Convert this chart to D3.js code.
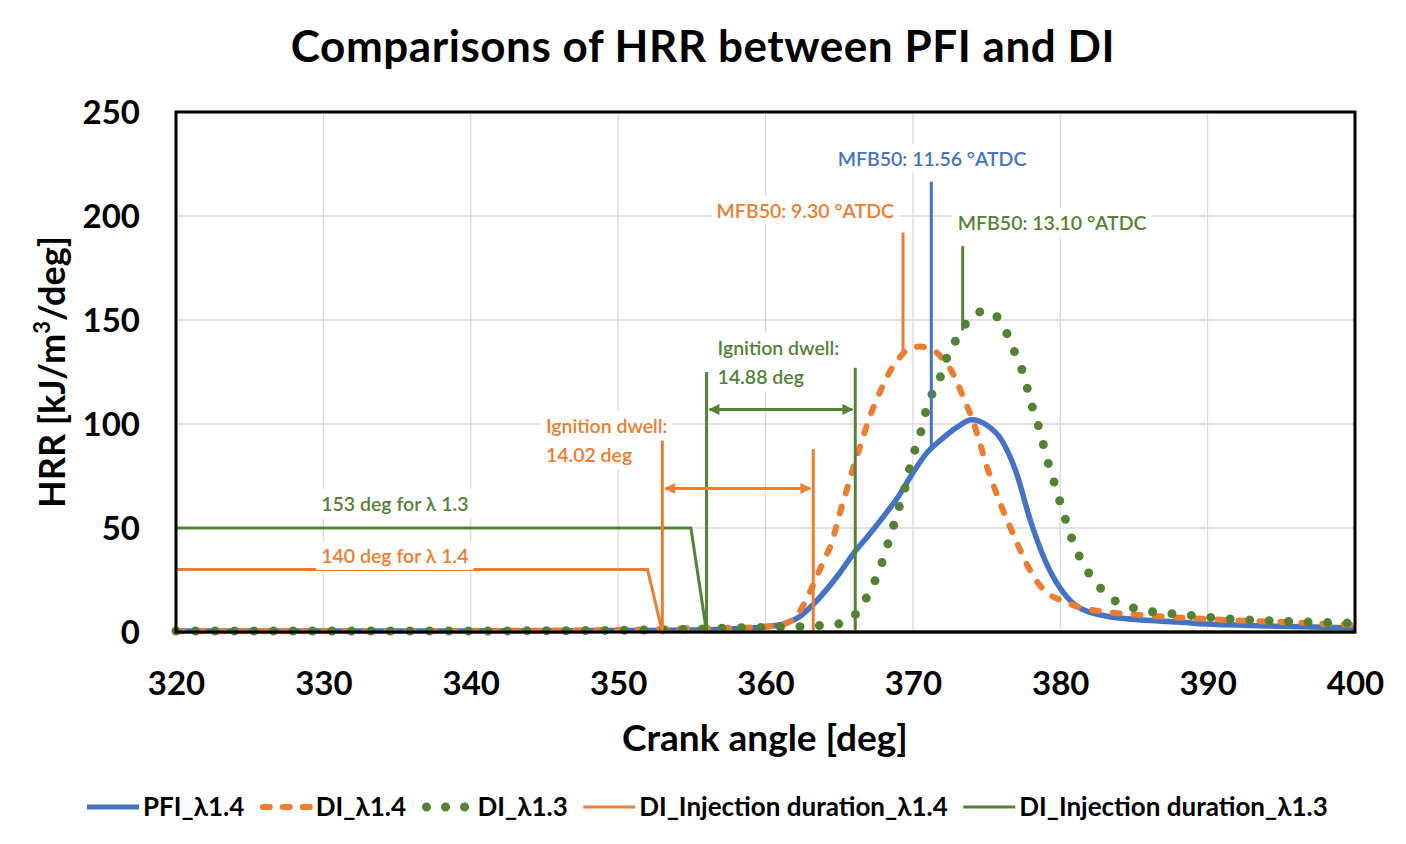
<!DOCTYPE html>
<html>
<head>
<meta charset="utf-8">
<script src="https://cdn.jsdelivr.net/npm/d3@7"></script>
<style>
  body { margin: 0; background: #fff; }
  svg { display: block; font-family: Lato, "Open Sans", sans-serif; }
</style>
</head>
<body>
<svg id="chart"></svg>
<script>
const width = 1406, height = 844;
const margin = { top: 112, right: 51, bottom: 212, left: 176 };
const plotWidth = width - margin.left - margin.right;
const plotHeight = height - margin.top - margin.bottom;

// Colours (Office palette)
const blue = "#4472C4", orange = "#ED7D31", green = "#548235";

// Axis ticks
const xTicks = [320, 330, 340, 350, 360, 370, 380, 390, 400];
const yTicks = [0, 50, 100, 150, 200, 250];

// HRR curves: [crank angle, HRR]
const pfiLambda14 = [
  [320, 0.5], [340, 0.5], [350, 0.7], [355, 1.0], [358, 1.6], [360, 2.5], [361.4, 4.3],
  [362.3, 7.3], [363.2, 13], [364.1, 20], [365, 28], [366, 38], [367, 46.5], [368, 55.5],
  [369, 65], [370, 76.5], [371, 86.5], [372, 93], [373, 98.5], [374, 102], [375, 99.5],
  [376, 92.5], [377, 77], [378, 53], [379, 34], [380, 21], [381, 13], [382, 9.5],
  [383, 7.8], [384, 6.7], [385.5, 5.8], [388, 4.8], [390, 3.8], [395, 2.8], [400, 1.9]
];
const diLambda14 = [
  [320, 0.3], [340, 0.5], [350, 1.0], [355, 1.8], [358, 2.0], [359.6, 2.4], [361, 3.4],
  [362, 7], [362.5, 12], [363, 19], [363.5, 27], [364, 35], [364.5, 43], [365, 56],
  [365.5, 68], [366, 80], [366.5, 91], [367, 102], [367.5, 111], [368, 119], [368.5, 126],
  [369, 131], [369.5, 135], [370, 136.8], [370.5, 137.2], [371, 136.5], [371.5, 135],
  [372, 131.5], [372.5, 127], [373, 120], [373.5, 111.5], [374, 103], [374.5, 92],
  [375, 80], [375.5, 70], [376, 60.5], [376.5, 52], [377, 44], [377.5, 36], [378, 29],
  [378.5, 23.5], [379, 19.5], [380, 15.4], [381, 12.6], [382, 10.8], [383, 9.7],
  [385, 8.4], [390, 6.2], [395, 4.8], [400, 3.4]
];
const diLambda13 = [
  [320, 0.5], [340, 0.5], [350, 0.8], [355, 1.3], [358, 2.0], [360.7, 2.3], [362.1, 2.5],
  [363.5, 3.0], [364.8, 3.7], [366, 7.7], [366.8, 15.9], [367.4, 24.2], [367.9, 33.3],
  [368.3, 42.3], [368.7, 51.4], [369.1, 60.7], [369.5, 70], [369.8, 79.3], [370.2, 89],
  [370.6, 97.6], [370.9, 106.7], [371.4, 116], [372, 125], [372.4, 134], [373.1, 142],
  [373.8, 150.5], [374.4, 153.5], [375, 154.5], [376, 148.7], [376.6, 140], [377.1, 131],
  [377.6, 122], [377.9, 113], [378.3, 104], [378.7, 94.7], [379, 85.6], [379.4, 76.4],
  [379.8, 67], [380.2, 57.6], [380.6, 48.6], [381.1, 39.4], [381.7, 31], [382.5, 23],
  [383.4, 16.5], [384.7, 12.2], [386, 10], [387.3, 9], [388.7, 8.1], [390.1, 7.1],
  [391.4, 6.3], [395, 5.2], [400, 4.2]
];
// Injection duration traces
const injLambda14 = [[320, 30], [352, 30], [353, 0], [400, 0]];
const injLambda13 = [[320, 50], [354.94, 50], [356, 0], [400, 0]];

// Annotation lines: angle, HRR from, HRR to (placed where the source drew them)
const mfbLines = [
  { angle: 369.33, from: 134.6, to: 192, color: orange },
  { angle: 371.25, from: 87.5, to: 216.5, color: blue },
  { angle: 373.38, from: 145, to: 185.5, color: green }
];
const dwellLines = [
  { angle: 353.0, top: 92, color: orange },
  { angle: 363.24, top: 88, color: orange },
  { angle: 356.0, top: 125, color: green },
  { angle: 366.09, top: 127, color: green }
];
const dwellArrows = [
  { from: 353.0, to: 363.24, level: 69, color: orange },
  { from: 356.0, to: 366.09, level: 107, color: green }
];
// Text annotations: angle / HRR of the left (or centre) anchor
const notes = [
  { text: ["MFB50: 11.56 °ATDC"], angle: 371.3, hrr: 227.5, anchor: "middle", color: blue },
  { text: ["MFB50: 9.30 °ATDC"], angle: 362.7, hrr: 202.5, anchor: "middle", color: orange },
  { text: ["MFB50: 13.10 °ATDC"], angle: 379.45, hrr: 196.5, anchor: "middle", color: green },
  { text: ["Ignition dwell:", "14.88 deg"], angle: 356.75, hrr: 136.5, anchor: "start", color: green },
  { text: ["Ignition dwell:", "14.02 deg"], angle: 345.1, hrr: 99, anchor: "start", color: orange },
  { text: ["153 deg for λ 1.3"], angle: 329.85, hrr: 61.5, anchor: "start", color: green },
  { text: ["140 deg for λ 1.4"], angle: 329.85, hrr: 36.5, anchor: "start", color: orange }
];
const legendItems = [
  { name: "PFI_λ1.4", color: blue, kind: "solid" },
  { name: "DI_λ1.4", color: orange, kind: "dash" },
  { name: "DI_λ1.3", color: green, kind: "dot" },
  { name: "DI_Injection duration_λ1.4", color: orange, kind: "thin" },
  { name: "DI_Injection duration_λ1.3", color: green, kind: "thin" }
];

const svg = d3.select("#chart")
  .attr("width", width)
  .attr("height", height)
  .attr("viewBox", [0, 0, width, height]);

svg.append("rect").attr("width", width).attr("height", height).attr("fill", "#fff");

const defs = svg.append("defs");
[["arrow-orange", orange], ["arrow-green", green]].forEach(([id, c]) => {
  defs.append("marker")
    .attr("id", id)
    .attr("viewBox", "0 0 10 10")
    .attr("refX", 9).attr("refY", 5)
    .attr("markerWidth", 13).attr("markerHeight", 11)
    .attr("markerUnits", "userSpaceOnUse")
    .attr("orient", "auto-start-reverse")
    .append("path").attr("d", "M0,0 L10,5 L0,10 Z").attr("fill", c);
});

const g = svg.append("g").attr("transform", `translate(${margin.left},${margin.top})`);

const xScale = d3.scaleLinear().domain([320, 400]).range([0, plotWidth]);
const yScale = d3.scaleLinear().domain([0, 250]).range([plotHeight, 0]);

// Gridlines
g.append("g").selectAll("line").data(yTicks.slice(1, -1)).join("line")
  .attr("x1", 0).attr("x2", plotWidth)
  .attr("y1", d => yScale(d)).attr("y2", d => yScale(d))
  .attr("stroke", "#d9d9d9").attr("stroke-width", 1.3);
g.append("g").selectAll("line").data(xTicks.slice(1, -1)).join("line")
  .attr("y1", 0).attr("y2", plotHeight)
  .attr("x1", d => xScale(d)).attr("x2", d => xScale(d))
  .attr("stroke", "#d9d9d9").attr("stroke-width", 1.3);

const line = d3.line()
  .x(d => xScale(d[0]))
  .y(d => yScale(d[1]))
  .curve(d3.curveMonotoneX);
const straight = d3.line().x(d => xScale(d[0])).y(d => yScale(d[1]));

// HRR series
g.append("path").datum(pfiLambda14).attr("d", line)
  .attr("fill", "none").attr("stroke", blue).attr("stroke-width", 5.5);
g.append("path").datum(diLambda14).attr("d", line)
  .attr("fill", "none").attr("stroke", orange).attr("stroke-width", 6)
  .attr("stroke-dasharray", "7,14").attr("stroke-linecap", "round");
g.append("path").datum(diLambda13).attr("d", line)
  .attr("fill", "none").attr("stroke", green).attr("stroke-width", 9)
  .attr("stroke-dasharray", "0,19.5").attr("stroke-linecap", "round");

// Injection duration series
g.append("path").datum(injLambda14).attr("d", straight)
  .attr("fill", "none").attr("stroke", orange).attr("stroke-width", 3);
g.append("path").datum(injLambda13).attr("d", straight)
  .attr("fill", "none").attr("stroke", green).attr("stroke-width", 3);

// Text annotations with white boxes (below the annotation lines)
notes.forEach(n => {
  const grp = g.append("g");
  const bg = grp.append("rect").attr("fill", "#fff");
  const t = grp.append("text")
    .attr("x", xScale(n.angle)).attr("y", yScale(n.hrr))
    .attr("text-anchor", n.anchor)
    .attr("fill", n.color)
    .attr("font-size", 19.5).attr("font-weight", 600);
  n.text.forEach((s, i) => {
    t.append("tspan").attr("x", xScale(n.angle)).attr("dy", i === 0 ? "0.35em" : "1.5em").text(s);
  });
  const b = t.node().getBBox();
  bg.attr("x", b.x - 5).attr("y", b.y - 3).attr("width", b.width + 10).attr("height", b.height + 6);
});

// Annotation lines
g.append("g").selectAll("line").data(mfbLines).join("line")
  .attr("x1", d => xScale(d.angle)).attr("x2", d => xScale(d.angle))
  .attr("y1", d => yScale(d.from)).attr("y2", d => yScale(d.to))
  .attr("stroke", d => d.color).attr("stroke-width", 3);
g.append("g").selectAll("line").data(dwellLines).join("line")
  .attr("x1", d => xScale(d.angle)).attr("x2", d => xScale(d.angle))
  .attr("y1", yScale(0)).attr("y2", d => yScale(d.top))
  .attr("stroke", d => d.color).attr("stroke-width", 3);
g.append("g").selectAll("line").data(dwellArrows).join("line")
  .attr("x1", d => xScale(d.from) + 3).attr("x2", d => xScale(d.to) - 3)
  .attr("y1", d => yScale(d.level)).attr("y2", d => yScale(d.level))
  .attr("stroke", d => d.color).attr("stroke-width", 3)
  .attr("marker-start", d => `url(#arrow-${d.color === orange ? "orange" : "green"})`)
  .attr("marker-end", d => `url(#arrow-${d.color === orange ? "orange" : "green"})`);

// Plot frame
g.append("rect").attr("width", plotWidth).attr("height", plotHeight)
  .attr("fill", "none").attr("stroke", "#000").attr("stroke-width", 3);

// Axes
const xAxis = g.append("g").attr("transform", `translate(0,${plotHeight})`)
  .call(d3.axisBottom(xScale).tickValues(xTicks).tickSize(0).tickPadding(40).tickFormat(d3.format("d")));
const yAxis = g.append("g")
  .call(d3.axisLeft(yScale).tickValues(yTicks).tickSize(0).tickPadding(36).tickFormat(d3.format("d")));
[xAxis, yAxis].forEach(a => {
  a.select(".domain").remove();
  a.selectAll("text").attr("font-size", 33).attr("font-weight", 700)
    .attr("fill", "#000").attr("font-family", "Lato, sans-serif");
});
yAxis.selectAll("text").attr("dy", "0.36em");

// Titles
svg.append("text").attr("x", 703).attr("y", 62).attr("text-anchor", "middle")
  .attr("font-size", 44).attr("font-weight", 700).attr("letter-spacing", 0.55)
  .text("Comparisons of HRR between PFI and DI");
svg.append("text").attr("x", 765).attr("y", 751).attr("text-anchor", "middle")
  .attr("font-size", 37).attr("font-weight", 700).text("Crank angle [deg]");
const yTitle = svg.append("text")
  .attr("transform", "translate(65,372) rotate(-90)")
  .attr("text-anchor", "middle").attr("font-size", 36).attr("font-weight", 700);
yTitle.append("tspan").text("HRR [kJ/m");
yTitle.append("tspan").attr("font-size", 22).attr("dy", "-0.7em").text("3");
yTitle.append("tspan").attr("dy", "0.42em").text("/deg]");

// Legend
const legend = svg.append("g").attr("transform", "translate(87,807)");
let lx = 0;
legendItems.forEach(item => {
  const it = legend.append("g").attr("transform", `translate(${lx},0)`);
  const sym = it.append("line").attr("x1", 0).attr("x2", 52).attr("y1", 0).attr("y2", 0)
    .attr("stroke", item.color);
  if (item.kind === "solid") sym.attr("stroke-width", 5);
  if (item.kind === "dash") sym.attr("stroke-width", 6).attr("stroke-dasharray", "7,13")
    .attr("stroke-linecap", "round").attr("x1", 3).attr("x2", 52);
  if (item.kind === "dot") sym.attr("stroke-width", 9).attr("stroke-dasharray", "0,19")
    .attr("stroke-linecap", "round").attr("x1", 5).attr("x2", 48);
  if (item.kind === "thin") sym.attr("stroke-width", 3);
  const txt = it.append("text").attr("x", 56).attr("dy", "0.35em")
    .attr("font-size", 26).attr("font-weight", 700).text(item.name);
  lx += 56 + txt.node().getComputedTextLength() + 15.5;
});
</script>
</body>
</html>
